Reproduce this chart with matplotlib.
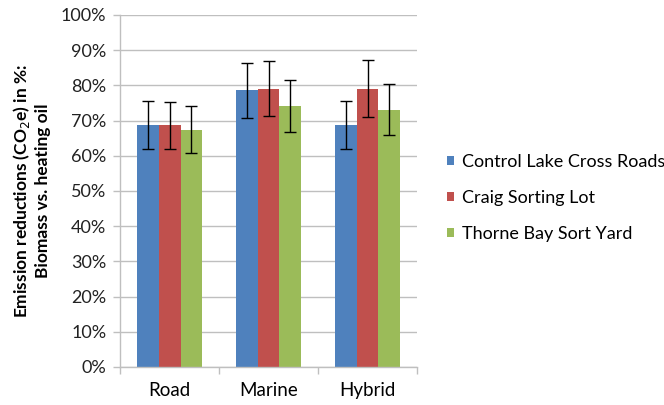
import matplotlib.pyplot as plt
import numpy as np
from matplotlib.ticker import FixedLocator, PercentFormatter

plt.rcParams["font.family"] = ["Lato", "DejaVu Sans"]

CATEGORIES = ["Road", "Marine", "Hybrid"]
SERIES = ["Control Lake Cross Roads", "Craig Sorting Lot", "Thorne Bay Sort Yard"]
COLORS = ["#4F81BD", "#C0504D", "#9BBB59"]

# values in %
CONTROL_LAKE = [68.8, 78.6, 68.8]
CRAIG = [68.6, 79.1, 79.1]
THORNE_BAY = [67.4, 74.1, 73.1]
CONTROL_LAKE_ERR = [6.9, 7.8, 6.9]
CRAIG_ERR = [6.8, 7.8, 8.0]
THORNE_BAY_ERR = [6.6, 7.4, 7.3]

values = [CONTROL_LAKE, CRAIG, THORNE_BAY]
errors = [CONTROL_LAKE_ERR, CRAIG_ERR, THORNE_BAY_ERR]

GRID_COLOR = "#bfbfbf"
BAR_W = 0.22
FS = 13

fig = plt.figure(figsize=(6.64, 4.05), dpi=100)
ax = fig.add_axes([0.181, 0.094, 0.447, 0.869])

x = np.arange(len(CATEGORIES))
for i, (name, vals, errs, col) in enumerate(zip(SERIES, values, errors, COLORS)):
    ax.bar(x + (i - 1) * BAR_W, vals, width=BAR_W, color=col, label=name,
           zorder=2, linewidth=0)
    ax.errorbar(x + (i - 1) * BAR_W, vals, yerr=errs, fmt="none",
                ecolor="black", elinewidth=1, capsize=4, capthick=1, zorder=3)

ax.set_xlim(-0.5, len(CATEGORIES) - 0.5)
ax.set_ylim(0, 100)
ax.set_yticks(np.arange(0, 101, 10))
ax.yaxis.set_major_formatter(PercentFormatter(decimals=0))
ax.grid(axis="y", color=GRID_COLOR, linewidth=1, zorder=0)
ax.set_axisbelow(True)

ax.set_xticks(x)
ax.set_xticklabels(CATEGORIES)
ax.xaxis.set_minor_locator(FixedLocator(np.arange(-0.5, len(CATEGORIES), 1)))
ax.tick_params(axis="x", which="major", length=0, pad=11, labelsize=FS + 0.5,
               colors="black")
ax.tick_params(axis="x", which="minor", length=5, color=GRID_COLOR, width=1)
ax.tick_params(axis="y", length=5, color=GRID_COLOR, width=1, labelsize=FS, pad=5,
               labelcolor="#222222")

for side in ("top", "right"):
    ax.spines[side].set_visible(False)
for side in ("left", "bottom"):
    ax.spines[side].set_color(GRID_COLOR)
    ax.spines[side].set_linewidth(1)

ax.set_ylabel("Emission reductions (CO$_2$e) in %:\nBiomass vs. heating oil",
              fontsize=12.5, fontweight="bold", labelpad=7)

ax.legend(loc="center left", bbox_to_anchor=(1.1, 0.48), frameon=False,
          fontsize=FS, handlelength=0.4, handleheight=0.4, handletextpad=0.45,
          labelspacing=1.1, borderaxespad=0, borderpad=0)

fig.savefig("out.png", dpi=100)
